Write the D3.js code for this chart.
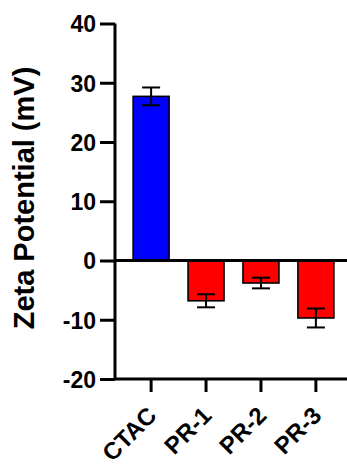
<!DOCTYPE html>
<html>
<head>
<meta charset="utf-8">
<script src="https://cdn.jsdelivr.net/npm/d3@7"></script>
<style>
  html, body { margin: 0; padding: 0; background: #fff; }
  svg { display: block; }
  text { font-family: "Liberation Sans", Arial, sans-serif; font-weight: bold; fill: #000; }
</style>
</head>
<body>
<svg id="chart" width="347" height="465"></svg>
<script>
// Zeta potential per sample (mV), with error bar half-widths
const categories = ["CTAC", "PR-1", "PR-2", "PR-3"];
const zetaMeans = [27.7, -6.8, -3.8, -9.7];
const zetaErrors = [1.5, 1.1, 0.9, 1.6];
const barColors = ["#0000ff", "#ff0000", "#ff0000", "#ff0000"];
const yTicks = [-20, -10, 0, 10, 20, 30, 40];

const svg = d3.select("#chart");
const W = 347;

const y = d3.scaleLinear().domain([-20, 40]).range([379, 23.5]);
const x = d3.scaleBand().domain(categories).range([115, 352])
  .paddingInner(0.345).paddingOuter(0.33);

const data = categories.map((c, i) => ({ c, v: zetaMeans[i], e: zetaErrors[i], col: barColors[i] }));

// bars
svg.append("g").selectAll("rect").data(data).join("rect")
  .attr("x", d => x(d.c))
  .attr("width", x.bandwidth())
  .attr("y", d => y(Math.max(0, d.v)))
  .attr("height", d => Math.abs(y(d.v) - y(0)))
  .attr("fill", d => d.col)
  .attr("stroke", "#000")
  .attr("stroke-width", 1.6);

// error bars
const capW = 18;
const eb = svg.append("g").attr("stroke", "#000").attr("stroke-width", 2);
data.forEach(d => {
  const cx = x(d.c) + x.bandwidth() / 2;
  eb.append("line").attr("x1", cx).attr("x2", cx).attr("y1", y(d.v - d.e)).attr("y2", y(d.v + d.e));
  [d.v - d.e, d.v + d.e].forEach(v => {
    eb.append("line").attr("x1", cx - capW / 2).attr("x2", cx + capW / 2).attr("y1", y(v)).attr("y2", y(v));
  });
});

// zero baseline
svg.append("line").attr("x1", 115).attr("x2", W).attr("y1", y(0)).attr("y2", y(0))
  .attr("stroke", "#000").attr("stroke-width", 3);

// y axis (plain hyphen for negatives)
const yAxis = svg.append("g").attr("transform", "translate(115,0)")
  .call(d3.axisLeft(y).tickValues(yTicks).tickSize(15).tickPadding(4).tickFormat(d => String(d)));
yAxis.select(".domain").attr("stroke-width", 3).attr("d", `M0,${y(40)}V${y(-20)}`);
yAxis.selectAll(".tick line").attr("stroke-width", 3);
yAxis.selectAll(".tick text").attr("font-size", 23).attr("font-family", null).attr("dy", "0.36em");

// x axis
const xAxis = svg.append("g").attr("transform", `translate(0,${y(-20)})`)
  .call(d3.axisBottom(x).tickSize(13).tickSizeOuter(0).tickFormat(""));
xAxis.select(".domain").attr("stroke-width", 3).attr("d", `M115,0H${W}`);
xAxis.selectAll(".tick line").attr("stroke-width", 3);

// rotated category labels
svg.append("g").selectAll("text").data(categories).join("text")
  .attr("transform", c => `translate(${x(c) + x.bandwidth() / 2 + 7},${y(-20) + 38}) rotate(-45)`)
  .attr("text-anchor", "end")
  .attr("font-size", 24)
  .text(c => c);

// y axis title
svg.append("text")
  .attr("transform", `translate(34,198) rotate(-90)`)
  .attr("text-anchor", "middle")
  .attr("font-size", 29)
  .text("Zeta Potential (mV)");
</script>
</body>
</html>
